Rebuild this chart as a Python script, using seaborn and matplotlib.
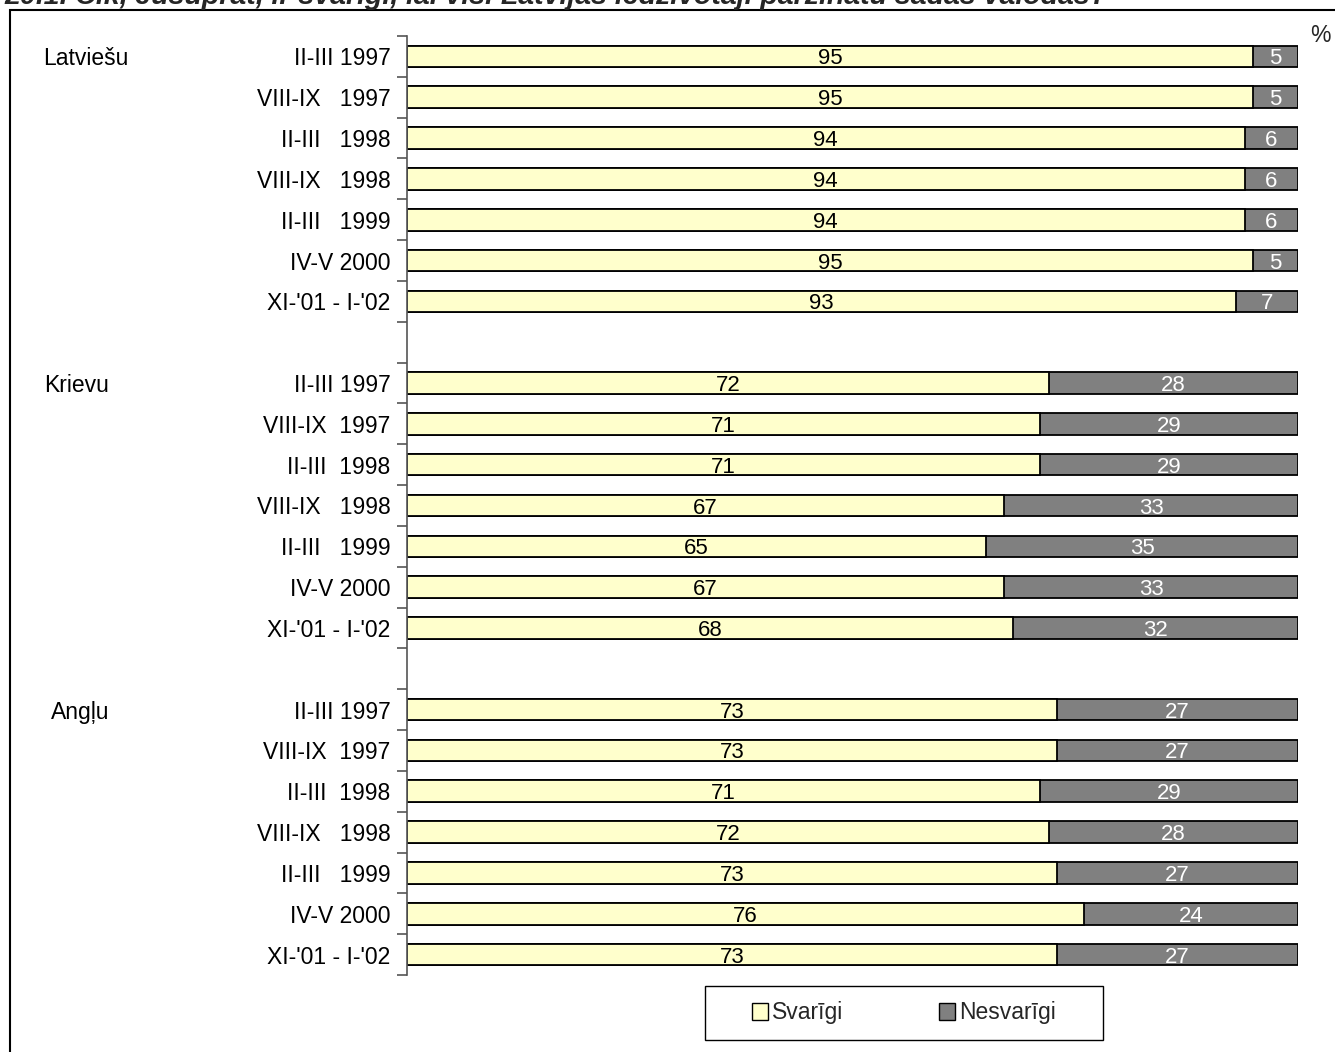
import numpy as np
import pandas as pd
import matplotlib
matplotlib.use("Agg")
import matplotlib.pyplot as plt
from matplotlib.patches import Rectangle, Patch
from matplotlib.ticker import FixedLocator, FixedFormatter
from matplotlib.transforms import blended_transform_factory
import seaborn as sns

# --- data -------------------------------------------------------------
groups = ["Latviešu", "Krievu", "Angļu"]
periods_lv = ["II-III 1997", "VIII-IX   1997", "II-III   1998", "VIII-IX   1998",
              "II-III   1999", "IV-V 2000", "XI-'01 - I-'02"]
periods_ru = ["II-III 1997", "VIII-IX  1997", "II-III  1998", "VIII-IX   1998",
              "II-III   1999", "IV-V 2000", "XI-'01 - I-'02"]
periods_en = ["II-III 1997", "VIII-IX  1997", "II-III  1998", "VIII-IX   1998",
              "II-III   1999", "IV-V 2000", "XI-'01 - I-'02"]
svarigi_lv = [95, 95, 94, 94, 94, 95, 93]
nesvarigi_lv = [5, 5, 6, 6, 6, 5, 7]
svarigi_ru = [72, 71, 71, 67, 65, 67, 68]
nesvarigi_ru = [28, 29, 29, 33, 35, 33, 32]
svarigi_en = [73, 73, 71, 72, 73, 76, 73]
nesvarigi_en = [27, 27, 29, 28, 27, 24, 27]
series_names = ["Svarīgi", "Nesvarīgi"]
title = "20.1. Cik, Jūsuprāt, ir svarīgi, lai visi Latvijas iedzīvotāji pārzinātu šādas valodas?"

# --- rows: 7 per group, one empty row between groups --------------------
rows = []
for gi, (labels, sv, ns) in enumerate([(periods_lv, svarigi_lv, nesvarigi_lv),
                                       (periods_ru, svarigi_ru, nesvarigi_ru),
                                       (periods_en, svarigi_en, nesvarigi_en)]):
    for i, (lab, s, n) in enumerate(zip(labels, sv, ns)):
        rows.append({"pos": gi * 8 + i, "label": lab, "group": groups[gi],
                     "first": i == 0, "svarigi": s, "nesvarigi": n,
                     "total": s + n})
df = pd.DataFrame(rows)

YELLOW = "#FFFFCC"
GRAY = "#808080"
W, H = 1335, 1052

sns.set_theme(style="white")
plt.rcParams["font.family"] = ["Liberation Sans", "DejaVu Sans"]

fig = plt.figure(figsize=(W / 100, H / 100), dpi=100)
ax = fig.add_axes([407 / W, 1 - 975 / H, (1298 - 407) / W, (975 - 36) / H])

bar_w = 0.53
# stacked bars: full length in grey, the "important" share in yellow on top
sns.barplot(data=df, x="total", y="pos", orient="h", native_scale=True,
            color=GRAY, width=bar_w, edgecolor="black", linewidth=1.3,
            saturation=1, ax=ax)
sns.barplot(data=df, x="svarigi", y="pos", orient="h", native_scale=True,
            color=YELLOW, width=bar_w, edgecolor="black", linewidth=1.3,
            saturation=1, ax=ax)

ax.set_xlim(0, 100)
ax.set_ylim(22.5, -0.5)

# value labels inside the segments
for _, r in df.iterrows():
    ax.text(r["svarigi"] / 2, r["pos"], f"{r['svarigi']:d}", ha="center",
            va="center_baseline", fontsize=16, color="black")
    ax.text(r["svarigi"] + r["nesvarigi"] / 2, r["pos"], f"{r['nesvarigi']:d}",
            ha="center", va="center_baseline", fontsize=16, color="white")

# category axis: boundary ticks as major, labels on minor ticks
ax.yaxis.set_major_locator(FixedLocator(np.arange(-0.5, 23, 1.0)))
ax.yaxis.set_major_formatter(FixedFormatter([""] * 24))
ax.yaxis.set_minor_locator(FixedLocator(df["pos"].tolist()))
ax.yaxis.set_minor_formatter(FixedFormatter(df["label"].tolist()))
ax.tick_params(axis="y", which="major", left=True, length=7, width=1.2,
               color="#555555", direction="out")
ax.tick_params(axis="y", which="minor", left=True, length=0, pad=12,
               labelsize=16.5, labelcolor="black")
for lab in ax.get_yticklabels(minor=True):
    lab.set_verticalalignment("center_baseline")
ax.set_xticks([])
ax.set_xlabel("")
ax.set_ylabel("")
for side in ["top", "right", "bottom"]:
    ax.spines[side].set_visible(False)
ax.spines["left"].set_color("#555555")
ax.spines["left"].set_linewidth(1.2)

# group names at the left
group_tr = blended_transform_factory(fig.transFigure, ax.transData)
group_x = {"Latviešu": 43, "Krievu": 44, "Angļu": 51}
for _, r in df[df["first"]].iterrows():
    ax.text(group_x[r["group"]] / W, r["pos"], r["group"], transform=group_tr,
            ha="left", va="center_baseline", fontsize=16.5, color="black")

# percent sign
fig.text(1320 / W, 1 - 35 / H, "%", ha="center", va="center", fontsize=16.5)

# outer frame
fig.patches.append(Rectangle((10 / W, -0.05), 1.2, 1 - 10 / H + 0.05,
                             transform=fig.transFigure, fill=False,
                             edgecolor="black", linewidth=1.5))

# title, running off the top edge
fig.text(4 / W, 1 - 4 / H, title, ha="left", va="baseline",
         fontsize=20.5, fontweight="bold", fontstyle="italic")

# legend box
fig.patches.append(Rectangle((705 / W, 1 - 1040 / H), (1103 - 705) / W, 54 / H,
                             transform=fig.transFigure, facecolor="white",
                             edgecolor="black", linewidth=1.0))
handles = [Patch(facecolor=YELLOW, edgecolor="black", linewidth=1.0),
           Patch(facecolor=GRAY, edgecolor="black", linewidth=1.0)]
leg = fig.legend(handles, series_names, loc="center",
                 bbox_to_anchor=(904 / W, 1 - 1013 / H), ncol=2,
                 fontsize=16.5, frameon=False,
                 handlelength=0.7, handleheight=0.7, handletextpad=0.15,
                 columnspacing=4.2, borderpad=0.0, borderaxespad=0)

fig.savefig("out.png", dpi=100)
